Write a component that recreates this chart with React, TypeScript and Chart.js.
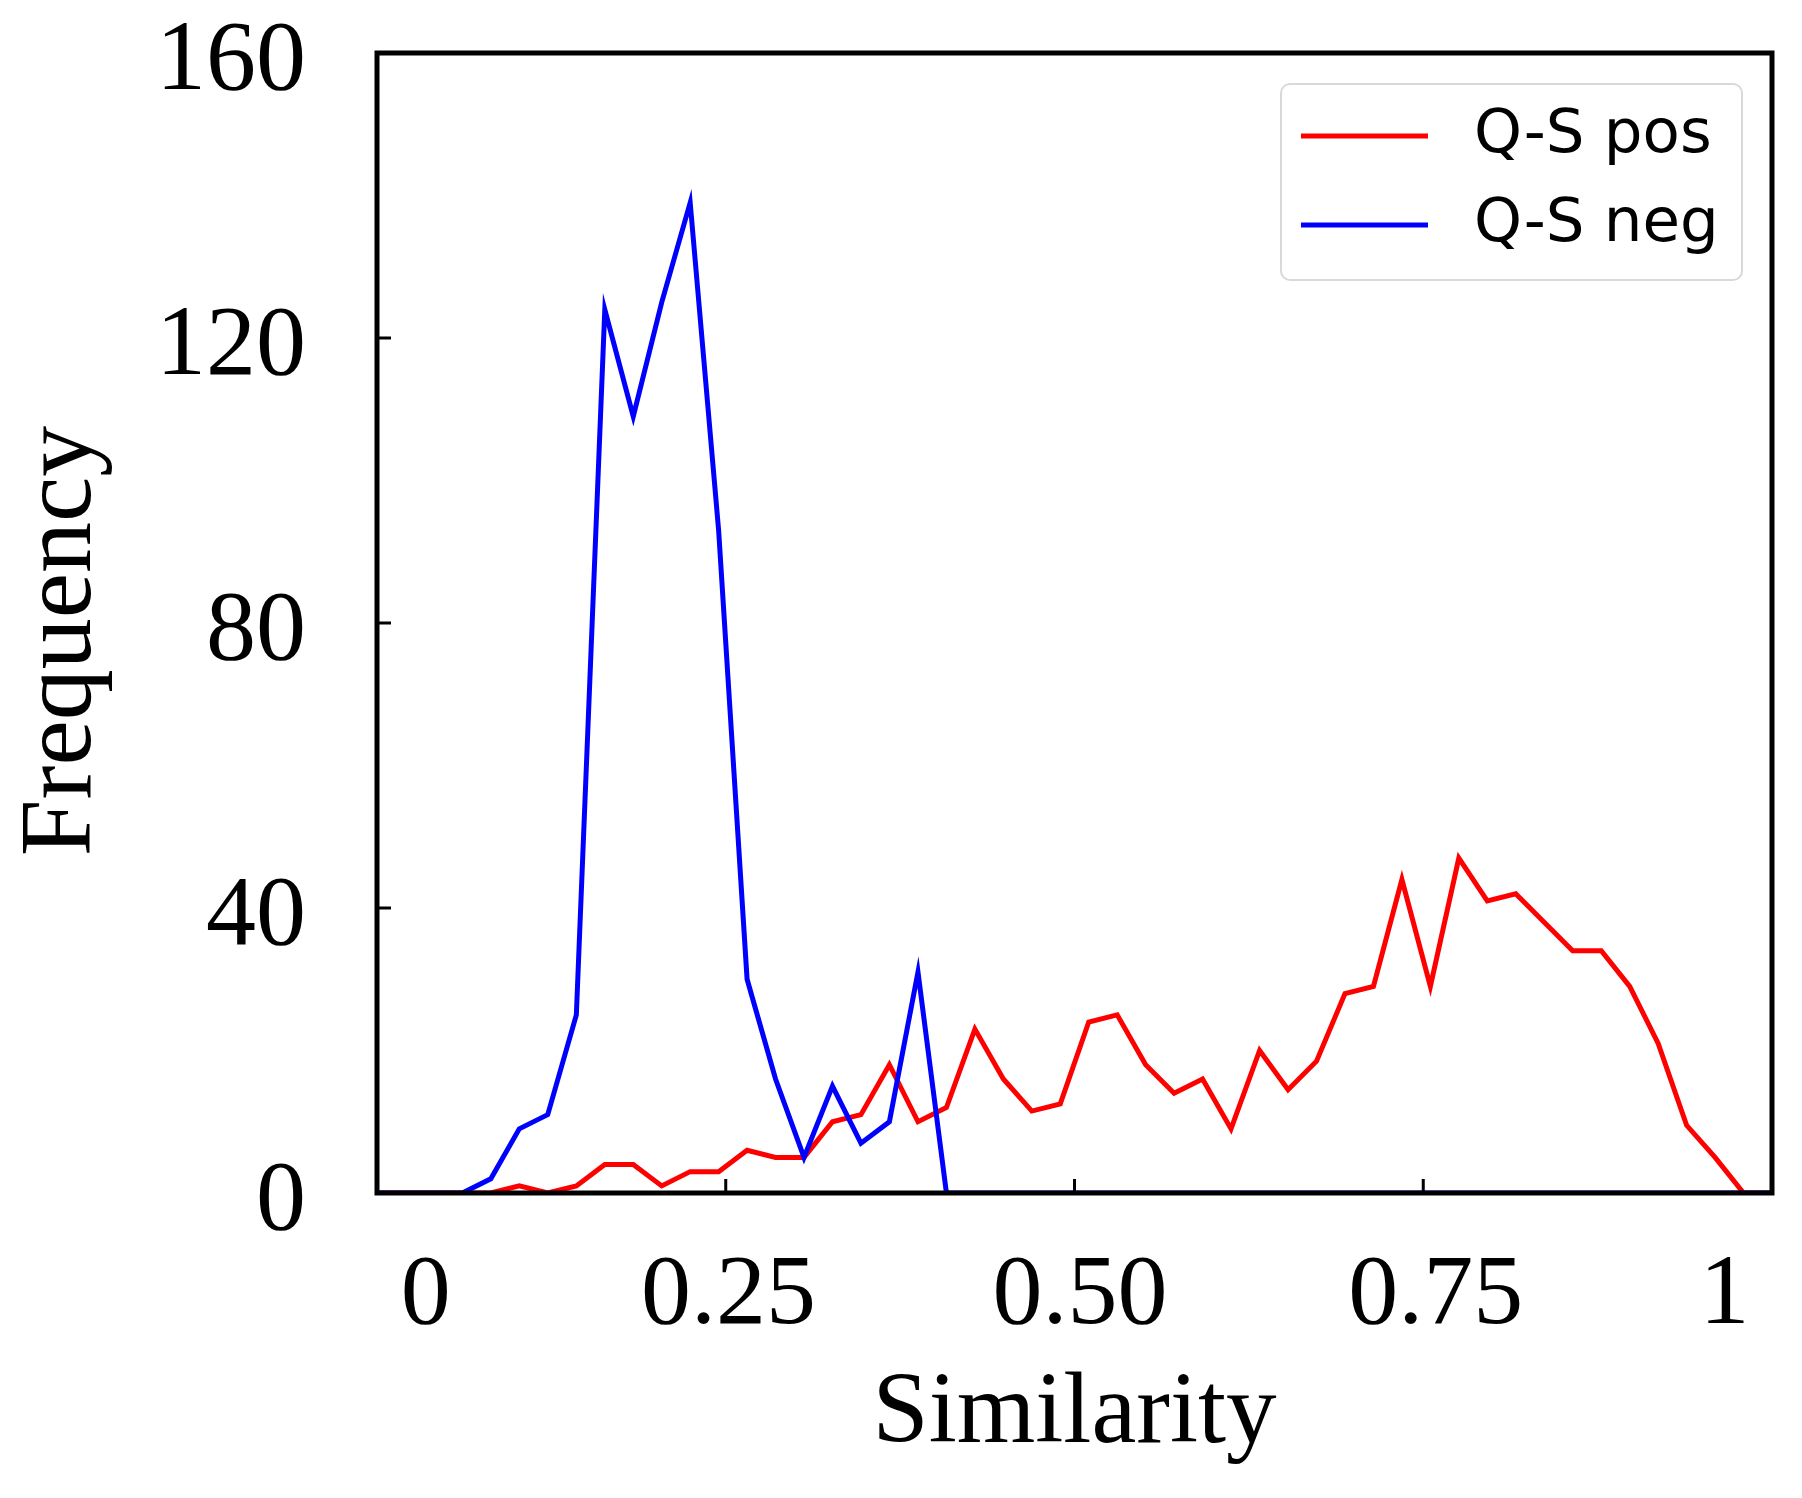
import { useEffect, useRef } from "react";
import { Chart, registerables, type Plugin } from "chart.js";

Chart.register(...registerables);

// bin positions on the similarity axis (50 bins across 0..1)
const SIMILARITY = [
  0, 0.0204, 0.0408, 0.0612, 0.0816, 0.102, 0.1224, 0.1429, 0.1633, 0.1837,
  0.2041, 0.2245, 0.2449, 0.2653, 0.2857, 0.3061, 0.3265, 0.3469, 0.3673, 0.3878,
  0.4082, 0.4286, 0.449, 0.4694, 0.4898, 0.5102, 0.5306, 0.551, 0.5714, 0.5918,
  0.6122, 0.6327, 0.6531, 0.6735, 0.6939, 0.7143, 0.7347, 0.7551, 0.7755, 0.7959,
  0.8163, 0.8367, 0.8571, 0.8776, 0.898, 0.9184, 0.9388, 0.9592, 0.9796, 1,
];

const QS_POS = [
  0, 0, 0, 0, 0, 1, 0, 1, 4, 4,
  1, 3, 3, 6, 5, 5, 10, 11, 18, 10,
  12, 23, 16, 11.5, 12.5, 24, 25, 18, 14, 16,
  9, 20, 14.5, 18.5, 28, 29, 44, 29, 47, 41,
  42, 38, 34, 34, 29, 21, 9.5, 5, 0, 0,
];

const QS_NEG = [
  0, 0, 0, 0, 2, 9, 11, 25, 124, 109,
  125, 139, 93, 30, 16, 5, 15, 7, 10, 31,
  0, 0, 0, 0, 0, 0, 0, 0, 0, 0,
  0, 0, 0, 0, 0, 0, 0, 0, 0, 0,
  0, 0, 0, 0, 0, 0, 0, 0, 0, 0,
];

const X_TICK_MARKS = [0.25, 0.5, 0.75];
const X_LABEL_POS = [0.035, 0.252, 0.504, 0.759, 0.966];
const X_LABELS = ["0", "0.25", "0.50", "0.75", "1"];
const Y_TICK_MARKS = [40, 80, 120];
const Y_TITLE = "Frequency";

const SERIF = '"Liberation Serif", "Times New Roman", serif';
const SANS = '"DejaVu Sans", sans-serif';

// frame, inward ticks, y title and a matplotlib-like legend box
const framePlugin: Plugin<"line"> = {
  id: "frame",
  afterDatasetsDraw(chart) {
    const { ctx, chartArea: a, scales } = chart;
    ctx.save();

    ctx.strokeStyle = "#000";
    ctx.lineWidth = 3;
    ctx.beginPath();
    X_TICK_MARKS.forEach((v) => {
      const px = scales.x.getPixelForValue(v);
      ctx.moveTo(px, a.bottom);
      ctx.lineTo(px, a.bottom - 14);
    });
    Y_TICK_MARKS.forEach((v) => {
      const py = scales.y.getPixelForValue(v);
      ctx.moveTo(a.left, py);
      ctx.lineTo(a.left + 14, py);
    });
    ctx.stroke();

    ctx.lineWidth = 5;
    ctx.strokeRect(a.left, a.top, a.right - a.left, a.bottom - a.top);

    // y axis title, a little below the middle as in the original
    ctx.save();
    ctx.translate(scales.y.left + 63, (a.top + a.bottom) / 2 + 18);
    ctx.rotate(-Math.PI / 2);
    ctx.font = `102px ${SERIF}`;
    ctx.fillStyle = "#000";
    ctx.textAlign = "center";
    ctx.textBaseline = "middle";
    ctx.fillText(Y_TITLE, 0, 0);
    ctx.restore();

    // legend
    const w = 461;
    const h = 196;
    const bx = a.right - 30 - w;
    const by = a.top + 31;
    ctx.beginPath();
    ctx.roundRect(bx, by, w, h, 9);
    ctx.fillStyle = "rgba(255,255,255,0.8)";
    ctx.fill();
    ctx.strokeStyle = "#d9d9d9";
    ctx.lineWidth = 2;
    ctx.stroke();

    ctx.font = `61px ${SANS}`;
    ctx.textBaseline = "middle";
    ctx.textAlign = "left";
    chart.data.datasets.forEach((ds, i) => {
      const y = by + 52 + i * 89;
      ctx.strokeStyle = ds.borderColor as string;
      ctx.lineWidth = 5;
      ctx.beginPath();
      ctx.moveTo(bx + 20, y);
      ctx.lineTo(bx + 147, y);
      ctx.stroke();
      ctx.fillStyle = "#000";
      ctx.fillText(ds.label ?? "", bx + 193, y);
    });

    ctx.restore();
  },
};

export default function App() {
  const canvasRef = useRef<HTMLCanvasElement>(null);

  useEffect(() => {
    document.body.style.margin = "0";
    if (!canvasRef.current) return;

    const chart = new Chart(canvasRef.current, {
      type: "line",
      data: {
        datasets: [
          {
            label: "Q-S pos",
            data: SIMILARITY.map((x, i) => ({ x, y: QS_POS[i] })),
            borderColor: "#ff0000",
            borderWidth: 5,
            pointRadius: 0,
            order: 1,
          },
          {
            label: "Q-S neg",
            data: SIMILARITY.map((x, i) => ({ x, y: QS_NEG[i] })),
            borderColor: "#0000ff",
            borderWidth: 5,
            pointRadius: 0,
            order: 0,
          },
        ],
      },
      options: {
        responsive: true,
        maintainAspectRatio: false,
        animation: false,
        layout: { padding: { top: 53, right: 30, left: 0, bottom: 0 } },
        plugins: {
          legend: { display: false },
          tooltip: { enabled: false },
        },
        scales: {
          x: {
            type: "linear",
            min: 0,
            max: 1,
            grid: { display: false, drawTicks: false },
            border: { display: false },
            afterBuildTicks: (s) => {
              s.ticks = X_LABEL_POS.map((value) => ({ value }));
            },
            afterFit: (s) => {
              s.height = 305;
              s.paddingLeft = 0;
              s.paddingRight = 0;
            },
            ticks: {
              autoSkip: false,
              maxRotation: 0,
              padding: 44,
              color: "#000",
              font: { family: SERIF, size: 100 },
              callback: (_v, i) => X_LABELS[i],
            },
            title: {
              display: true,
              text: "Similarity",
              color: "#000",
              font: { family: SERIF, size: 101, lineHeight: 1.2 },
              padding: { top: 0, bottom: 22 },
            },
          },
          y: {
            min: 0,
            max: 160,
            grid: { display: false, drawTicks: false },
            border: { display: false },
            afterFit: (s) => {
              s.width = 377;
              s.paddingTop = 0;
              s.paddingBottom = 0;
            },
            ticks: {
              stepSize: 40,
              padding: 71,
              labelOffset: 10,
              color: "#000",
              font: { family: SERIF, size: 100 },
            },
          },
        },
      },
      plugins: [framePlugin],
    });

    return () => chart.destroy();
  }, []);

  return (
    <div style={{ width: 1802, height: 1498, position: "relative", background: "#fff" }}>
      <canvas ref={canvasRef} />
    </div>
  );
}
